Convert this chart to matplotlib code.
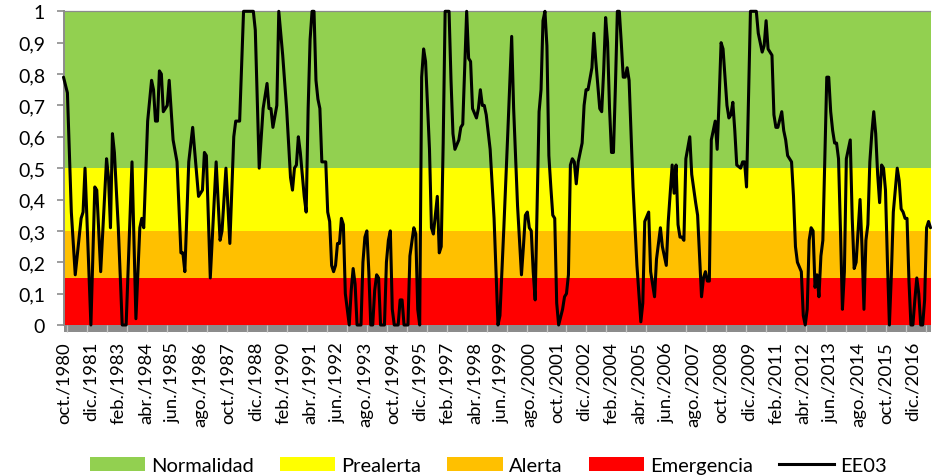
import matplotlib
matplotlib.use("Agg")
import matplotlib.pyplot as plt
from matplotlib.patches import Patch, Rectangle
from matplotlib.lines import Line2D
import numpy as np

plt.rcParams['font.family'] = ['Lato', 'DejaVu Sans']

# Monthly index counted from oct./1980 (0) and the EE03 index value
month = [0, 2, 4, 6, 9, 10, 11, 14, 16, 17, 19, 22, 23, 24, 25, 26, 28, 30, 32, 35,
         37, 39, 40, 41, 43, 45, 46, 47, 48, 49, 50, 51, 53, 54, 56, 58, 60, 61, 62, 64,
         66, 69, 71, 72, 73, 75, 78, 80, 81, 83, 85, 87, 88, 90, 92, 97, 98, 100, 102, 104,
         105, 106, 107, 109, 110, 112, 114, 116, 117, 118, 119, 120, 121, 123, 124, 125, 126, 127, 128, 129,
         130, 131, 132, 134, 135, 136, 137, 138, 139, 140, 141, 142, 143, 144, 146, 147, 148, 149, 150, 152,
         153, 154, 155, 156, 157, 158, 159, 160, 161, 162, 164, 165, 166, 167, 168, 169, 171, 172, 173, 174,
         176, 177, 179, 180, 181, 182, 183, 184, 185, 187, 188, 189, 191, 192, 193, 194, 195, 197, 198, 199,
         200, 202, 203, 204, 205, 206, 207, 208, 209, 211, 212, 213, 214, 215, 216, 218, 220, 221, 222, 223,
         225, 227, 229, 230, 232, 234, 235, 236, 237, 238, 239, 240, 241, 243, 244, 245, 246, 247, 248, 249,
         250, 251, 252, 253, 255, 256, 257, 258, 259, 260, 261, 262, 263, 265, 266, 267, 268, 270, 271, 272,
         274, 275, 276, 277, 278, 279, 280, 281, 282, 283, 284, 285, 286, 287, 288, 289, 291, 293, 295, 296,
         297, 299, 300, 302, 303, 305, 306, 308, 309, 311, 312, 313, 314, 315, 316, 317, 318, 320, 321, 323,
         324, 326, 327, 328, 329, 330, 331, 333, 334, 335, 336, 337, 339, 340, 341, 342, 343, 344, 346, 347,
         348, 349, 351, 354, 355, 357, 358, 359, 360, 362, 363, 364, 365, 367, 368, 369, 370, 372, 373, 374,
         375, 377, 378, 379, 380, 381, 382, 383, 384, 385, 386, 387, 388, 389, 390, 391, 392, 393, 394, 395,
         396, 397, 398, 399, 400, 401, 402, 403, 404, 405, 407, 408, 409, 410, 411, 412, 413, 414, 415, 416,
         417, 418, 419, 420, 421, 422, 423, 424, 426, 427, 428, 429, 430, 431, 432, 433, 434, 435, 436, 437,
         438, 439, 440, 441, 442, 443]

ee03 = [0.79, 0.74, 0.36, 0.16, 0.34, 0.36, 0.50, 0.00, 0.44, 0.43, 0.17, 0.53, 0.47, 0.31, 0.61, 0.55, 0.31, 0.00, 0.00, 0.52,
        0.02, 0.31, 0.34, 0.31, 0.65, 0.78, 0.75, 0.65, 0.65, 0.81, 0.80, 0.68, 0.70, 0.78, 0.59, 0.52, 0.23, 0.23, 0.17, 0.52,
        0.63, 0.41, 0.43, 0.55, 0.54, 0.15, 0.52, 0.27, 0.30, 0.50, 0.26, 0.60, 0.65, 0.65, 1.00, 1.00, 0.94, 0.50, 0.69, 0.77,
        0.69, 0.69, 0.63, 0.70, 1.00, 0.86, 0.69, 0.47, 0.43, 0.50, 0.51, 0.60, 0.55, 0.41, 0.36, 0.69, 0.91, 1.00, 1.00, 0.78,
        0.72, 0.69, 0.52, 0.52, 0.36, 0.33, 0.19, 0.17, 0.19, 0.26, 0.26, 0.34, 0.32, 0.10, 0.00, 0.11, 0.18, 0.13, 0.00, 0.00,
        0.20, 0.28, 0.30, 0.17, 0.00, 0.00, 0.11, 0.16, 0.15, 0.00, 0.00, 0.20, 0.27, 0.30, 0.05, 0.00, 0.00, 0.08, 0.08, 0.00,
        0.00, 0.22, 0.31, 0.29, 0.05, 0.00, 0.79, 0.88, 0.84, 0.56, 0.31, 0.29, 0.41, 0.23, 0.25, 0.58, 1.00, 1.00, 0.78, 0.61,
        0.56, 0.59, 0.63, 0.64, 0.82, 1.00, 0.85, 0.84, 0.69, 0.66, 0.69, 0.75, 0.70, 0.70, 0.67, 0.56, 0.34, 0.17, 0.00, 0.03,
        0.31, 0.61, 0.92, 0.69, 0.38, 0.16, 0.25, 0.35, 0.36, 0.31, 0.30, 0.17, 0.08, 0.68, 0.75, 0.97, 1.00, 0.89, 0.54, 0.44,
        0.35, 0.34, 0.07, 0.00, 0.05, 0.09, 0.10, 0.16, 0.51, 0.53, 0.52, 0.45, 0.52, 0.58, 0.70, 0.75, 0.75, 0.82, 0.93, 0.84,
        0.69, 0.68, 0.81, 0.98, 0.90, 0.69, 0.55, 0.55, 0.76, 1.00, 1.00, 0.90, 0.79, 0.79, 0.82, 0.78, 0.44, 0.19, 0.01, 0.07,
        0.33, 0.36, 0.17, 0.09, 0.21, 0.31, 0.25, 0.19, 0.33, 0.51, 0.42, 0.51, 0.32, 0.28, 0.28, 0.27, 0.53, 0.60, 0.48, 0.39,
        0.35, 0.09, 0.15, 0.17, 0.14, 0.14, 0.59, 0.65, 0.56, 0.72, 0.90, 0.88, 0.70, 0.66, 0.67, 0.71, 0.62, 0.51, 0.50, 0.52,
        0.52, 0.44, 1.00, 1.00, 0.93, 0.87, 0.89, 0.97, 0.88, 0.86, 0.67, 0.63, 0.63, 0.68, 0.62, 0.59, 0.54, 0.52, 0.41, 0.25,
        0.20, 0.17, 0.03, 0.00, 0.05, 0.27, 0.31, 0.30, 0.12, 0.16, 0.09, 0.22, 0.27, 0.53, 0.79, 0.79, 0.68, 0.62, 0.58, 0.58,
        0.53, 0.30, 0.05, 0.17, 0.53, 0.56, 0.59, 0.34, 0.18, 0.20, 0.40, 0.25, 0.05, 0.27, 0.32, 0.52, 0.61, 0.68, 0.61, 0.48,
        0.39, 0.51, 0.50, 0.43, 0.20, 0.00, 0.16, 0.36, 0.50, 0.46, 0.37, 0.36, 0.34, 0.34, 0.14, 0.00, 0.00, 0.08, 0.15, 0.10,
        0.00, 0.00, 0.08, 0.31, 0.33, 0.31]

n_months = 444  # oct./1980 .. sep./2017

# Alert thresholds (lower, upper) and their names / colours
levels = ["Normalidad", "Prealerta", "Alerta", "Emergencia"]
level_bounds = [(0.5, 1.0), (0.3, 0.5), (0.15, 0.3), (0.0, 0.15)]
level_colors = ["#92D050", "#FFFF00", "#FFC000", "#FF0000"]

# Category labels, one every 14 months
tick_labels = ["oct./1980", "dic./1981", "feb./1983", "abr./1984", "jun./1985", "ago./1986",
               "oct./1987", "dic./1988", "feb./1990", "abr./1991", "jun./1992", "ago./1993",
               "oct./1994", "dic./1995", "feb./1997", "abr./1998", "jun./1999", "ago./2000",
               "oct./2001", "dic./2002", "feb./2004", "abr./2005", "jun./2006", "ago./2007",
               "oct./2008", "dic./2009", "feb./2011", "abr./2012", "jun./2013", "ago./2014",
               "oct./2015", "dic./2016"]
label_step = 14

yticks = [0, 0.1, 0.2, 0.3, 0.4, 0.5, 0.6, 0.7, 0.8, 0.9, 1]
ytick_labels = ["0", "0,1", "0,2", "0,3", "0,4", "0,5", "0,6", "0,7", "0,8", "0,9", "1"]

W, H = 932, 477
fig = plt.figure(figsize=(W / 100, H / 100), dpi=100)
left_px, right_px, top_px, bottom_px = 63.5, 930.5, 12.3, 326.0
ax = fig.add_axes([left_px / W, 1 - bottom_px / H,
                   (right_px - left_px) / W, (bottom_px - top_px) / H])

for (lo, hi), col in zip(level_bounds, level_colors):
    ax.axhspan(lo, hi, color=col, lw=0, zorder=0)

ax.plot(month, ee03, color="black", lw=2.2, solid_joinstyle="round",
        solid_capstyle="round", zorder=3, clip_on=False)

ax.set_xlim(0, n_months - 1)
ax.set_ylim(0, 1)

grey = "#8C8C8C"
for side in ["left", "top"]:
    ax.spines[side].set_color(grey)
ax.spines["left"].set_linewidth(1.4)
ax.spines["top"].set_linewidth(0.9)
ax.spines["right"].set_visible(False)
ax.spines["bottom"].set_visible(False)

# thick grey category axis under the plot area
band_h = 7.0 / (bottom_px - top_px)
ax.add_patch(Rectangle((0, -band_h), 1, band_h, transform=ax.transAxes,
                       facecolor=grey, edgecolor="none", clip_on=False, zorder=1))

ax.set_yticks(yticks)
ax.set_yticklabels(ytick_labels)
ax.tick_params(axis="y", direction="out", length=4.7, width=1.2, color=grey,
               pad=8.5, labelsize=14, labelcolor="black")

xt = np.arange(len(tick_labels)) * label_step
ax.set_xticks(xt)
ax.set_xticklabels(tick_labels, rotation=90)
ax.tick_params(axis="x", which="major", length=0, pad=11.5, labelsize=13.3)
ax.set_xticks(np.arange(2, n_months, 10.2), minor=True)
ax.tick_params(axis="x", which="minor", direction="out", length=5, width=0.9,
               color="#C4C4C4")

handles = [Patch(facecolor=c, edgecolor="none") for c in level_colors]
handles.append(Line2D([0], [0], color="black", lw=2.2))
fig.legend(handles, levels + ["EE03"], loc="center", bbox_to_anchor=(0.524, 0.022),
           ncol=5, frameon=False, fontsize=14.5, handlelength=2.75, handleheight=0.7,
           handletextpad=0.3, columnspacing=1.3)

fig.savefig("out.png", dpi=100)
